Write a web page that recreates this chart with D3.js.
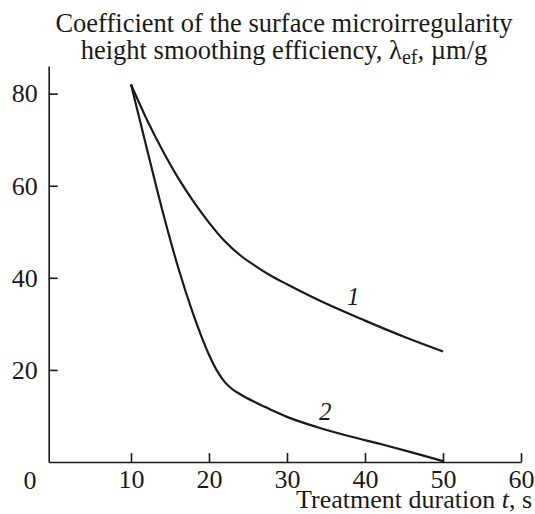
<!DOCTYPE html>
<html>
<head>
<meta charset="utf-8">
<script src="https://cdn.jsdelivr.net/npm/d3@7"></script>
<style>
  html, body { margin: 0; padding: 0; background: #fff; }
  svg { display: block; }
  text { font-family: "Liberation Serif", "Times New Roman", serif; fill: #1a1a1a; }
</style>
</head>
<body>
<svg id="chart" width="535" height="514"></svg>
<script>
// Treatment duration, s
const durations1 = [10, 12, 14, 16, 18, 20, 22, 24, 26, 28, 30, 35, 40, 45, 50];
// Curve 1: smoothing efficiency coefficient, µm/g
const efficiency1 = [82, 74.5, 67.8, 61.8, 56.6, 52, 48, 44.9, 42.5, 40.4, 38.6, 34.4, 30.7, 27.2, 24];

const durations2 = [10, 12, 14, 16, 18, 19, 20, 21, 22, 23, 24, 26, 28, 30, 34, 38, 42, 46, 50];
// Curve 2: smoothing efficiency coefficient, µm/g
const efficiency2 = [82, 68.3, 54.8, 42.5, 32, 27.4, 23.3, 19.9, 17.4, 15.8, 14.7, 12.9, 11.3, 9.8, 7.5, 5.6, 3.9, 2.1, 0.2];

const xTicks = [10, 20, 30, 40, 50, 60];
const yTicks = [20, 40, 60, 80];
const seriesNames = ["1", "2"];

const svg = d3.select("#chart");
const ink = "#1a1a1a";
const fontSize = 26;

const x = d3.scaleLinear().domain([-0.55, 60]).range([48.7, 521]);
const y = d3.scaleLinear().domain([0, 86]).range([462, 66]);

// X axis: ticks point up into the plot
const gx = svg.append("g")
  .attr("transform", `translate(0,${y(0)})`)
  .call(d3.axisBottom(x).tickValues(xTicks).tickSizeInner(-9).tickSizeOuter(0).tickPadding(8));

// Y axis: ticks point right into the plot
const gy = svg.append("g")
  .attr("transform", `translate(${x(-0.55)},0)`)
  .call(d3.axisLeft(y).tickValues(yTicks).tickSizeInner(-9).tickSizeOuter(0).tickPadding(11));

[gx, gy].forEach(g => {
  g.select(".domain").attr("stroke", ink).attr("stroke-width", 1.6);
  g.selectAll(".tick line").attr("stroke", ink).attr("stroke-width", 1.6);
  g.selectAll(".tick text")
    .style("font-family", '"Liberation Serif", "Times New Roman", serif')
    .attr("font-size", fontSize).attr("fill", ink);
});

// Origin label
svg.append("text")
  .attr("x", 30).attr("y", 488.5)
  .attr("text-anchor", "middle")
  .attr("font-size", fontSize)
  .text("0");

// Curves
const line = d3.line()
  .x(d => x(d[0]))
  .y(d => y(d[1]))
  .curve(d3.curveMonotoneX);

const series = [
  d3.zip(durations1, efficiency1),
  d3.zip(durations2, efficiency2)
];

svg.selectAll("path.curve")
  .data(series)
  .join("path")
  .attr("class", "curve")
  .attr("d", line)
  .attr("fill", "none")
  .attr("stroke", ink)
  .attr("stroke-width", 2.2)
  .attr("stroke-linejoin", "round");

// Curve numbers, placed in data units
const labelAt = [[38.5, 34.2], [34.9, 9.1]];
svg.selectAll("text.curve-label")
  .data(seriesNames)
  .join("text")
  .attr("class", "curve-label")
  .attr("x", (d, i) => x(labelAt[i][0]))
  .attr("y", (d, i) => y(labelAt[i][1]))
  .attr("text-anchor", "middle")
  .attr("font-size", 25)
  .attr("font-style", "italic")
  .text(d => d);

// Title
const title = svg.append("text")
  .attr("text-anchor", "middle")
  .attr("font-size", 26.5);
title.append("tspan").attr("x", 284).attr("y", 31.7)
  .text("Coefficient of the surface microirregularity");
const t2 = title.append("tspan").attr("x", 284).attr("y", 59.3);
t2.append("tspan").text("height smoothing efficiency, λ");
t2.append("tspan").attr("font-size", 20).attr("dy", 5).text("ef");
t2.append("tspan").attr("dy", -5).text(", µm/g");

// X axis title
const xt = svg.append("text")
  .attr("x", 532).attr("y", 508)
  .attr("text-anchor", "end")
  .attr("font-size", fontSize);
xt.append("tspan").text("Treatment duration ");
xt.append("tspan").attr("font-style", "italic").text("t");
xt.append("tspan").text(", s");
</script>
</body>
</html>
